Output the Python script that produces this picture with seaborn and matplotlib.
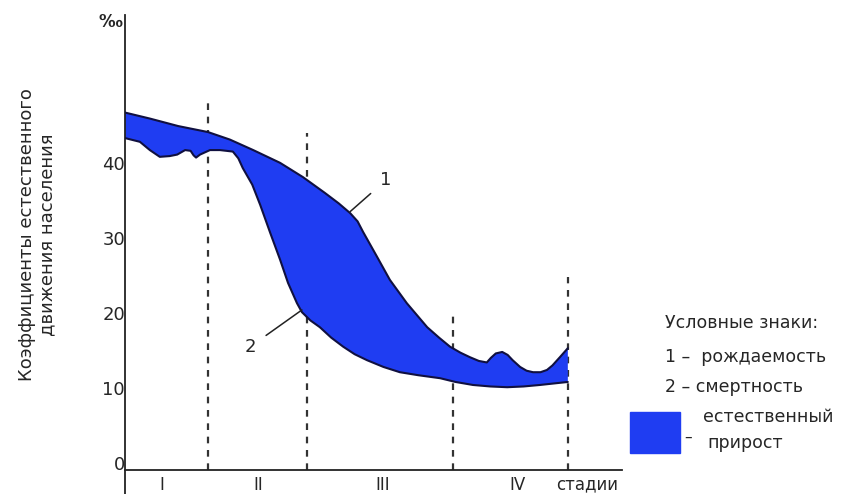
import numpy as np
import pandas as pd
import matplotlib
matplotlib.use("Agg")
import matplotlib.pyplot as plt
from matplotlib.patches import Rectangle
import seaborn as sns

sns.set_theme(style="white")
plt.rcParams["font.family"] = ["DejaVu Sans"]

# curve 1 - birth rate (per mille), x = relative time 0..100
birth_x = [0, 5.0, 10.7, 16.7, 21.1, 25.8, 31.2, 35.8, 40.2, 43.0, 45.3, 46.8,
           47.9, 50.7, 53.3, 56.7, 60.8, 63.2, 65.4, 67.5, 69.4, 71.2, 72.8,
           73.6, 74.6, 75.9, 77.0, 78.0, 79.5, 80.8, 82.1, 83.6, 84.9, 86.0,
           87.5, 89.1]
birth_v = [46.7, 45.9, 44.9, 44.1, 43.1, 41.7, 40.0, 38.1, 36.0, 34.6, 33.3, 32.2,
           30.8, 27.5, 24.4, 21.3, 18.1, 16.7, 15.5, 14.7, 14.1, 13.6, 13.4,
           14.0, 14.6, 14.8, 14.4, 13.7, 12.8, 12.3, 12.1, 12.1, 12.4, 13.0,
           14.1, 15.3]

# curve 2 - death rate
death_x = [0, 3.0, 5.0, 7.0, 9.0, 10.5, 12.1, 13.2, 13.8, 14.3, 15.1, 17.1,
           19.1, 21.7, 22.8, 23.7, 25.6, 27.2, 29.2, 31.2, 32.8, 34.6, 35.6,
           37.3, 39.2, 41.5, 43.9, 46.2, 48.7, 52.0, 55.3, 59.0, 63.4, 66.5,
           70.0, 73.5, 76.9, 80.2, 83.5, 86.3, 89.1]
death_v = [43.3, 42.8, 41.7, 40.8, 40.9, 41.1, 41.7, 41.6, 41.0, 40.7, 41.1, 41.7,
           41.7, 41.5, 40.6, 39.3, 37.1, 34.4, 30.7, 27.1, 24.0, 21.3, 20.1,
           19.0, 18.1, 16.7, 15.5, 14.5, 13.7, 12.8, 12.1, 11.7, 11.3, 10.8,
           10.4, 10.2, 10.1, 10.2, 10.4, 10.6, 10.8]

# stage boundaries (dashed) and their top ends
stage_bounds = [16.7, 36.6, 66.0, 89.1]
stage_tops = [48.0, 44.0, 20.1, 24.8]
stage_pos = [7.4, 26.8, 51.9, 78.9, 93.0]
stage_labels = ["I", "II", "III", "IV", "стадии"]
y_ticks = [0, 10, 20, 30, 40]

fill_color = "#1f3df2"
edge_color = "#101040"

df = pd.concat([
    pd.DataFrame({"x": birth_x, "v": birth_v, "curve": "1"}),
    pd.DataFrame({"x": death_x, "v": death_v, "curve": "2"}),
])

fig = plt.figure(figsize=(8.48, 4.94), dpi=100)
ax = fig.add_axes([125 / 848, 0, 497 / 848, 479 / 494])

# natural growth area between the two curves
ax.fill(np.concatenate([birth_x, death_x[::-1]]),
        np.concatenate([birth_v, death_v[::-1]]),
        color=fill_color, lw=0, zorder=2)
sns.lineplot(data=df, x="x", y="v", units="curve", estimator=None, sort=False,
             color=edge_color, lw=1.5, ax=ax, zorder=3)

ax.vlines(stage_bounds, -0.93, stage_tops, colors="#333333", lw=1.6,
          linestyles=(0, (3, 3)), zorder=1)

# curve labels
ax.annotate("1", xy=(45.3, 33.5), xytext=(52.5, 37.7), fontsize=13,
            ha="center", va="center",
            arrowprops=dict(arrowstyle="-", color="#222222", lw=1.1,
                            shrinkA=6, shrinkB=0))
ax.annotate("2", xy=(35.6, 20.4), xytext=(25.2, 15.5), fontsize=13,
            ha="center", va="center",
            arrowprops=dict(arrowstyle="-", color="#222222", lw=1.1,
                            shrinkA=6, shrinkB=0))

ax.set_xlim(0, 100)
ax.set_ylim(-4.13, 59.7)
ax.spines["top"].set_visible(False)
ax.spines["right"].set_visible(False)
ax.spines["bottom"].set_position(("data", -0.93))
for s in ("left", "bottom"):
    ax.spines[s].set_color("#222222")
    ax.spines[s].set_linewidth(1.3)

ax.set_yticks(y_ticks)
ax.set_yticklabels([str(t) for t in y_ticks], fontsize=13)
ax.set_xticks(stage_pos)
ax.set_xticklabels(stage_labels, fontsize=12)
ax.tick_params(axis="y", length=0, pad=0)
ax.tick_params(axis="x", length=0, pad=4)
ax.set_xlabel("")
ax.set_ylabel("")

fig.text(110 / 848, 1 - 22 / 494, "‰", fontsize=12, ha="center", va="center",
         fontweight="bold")
fig.text(37 / 848, 1 - 235 / 494,
         "Коэффициенты естественного\nдвижения населения",
         rotation=90, ha="center", va="center", fontsize=13, linespacing=1.15)

# legend block
fig.text(665 / 848, 1 - 323 / 494, "Условные знаки:", fontsize=12.5, va="center")
fig.text(665 / 848, 1 - 357 / 494, "1 –  рождаемость", fontsize=12.5, va="center")
fig.text(665 / 848, 1 - 387 / 494, "2 – смертность", fontsize=12.5, va="center")
fig.patches.append(Rectangle((630 / 848, 1 - 453 / 494), 50 / 848, 41 / 494,
                             transform=fig.transFigure, color=fill_color))
fig.text(688 / 848, 1 - 437 / 494, "–", fontsize=11, ha="center", va="center")
fig.text(703 / 848, 1 - 417 / 494, "естественный", fontsize=12.5, va="center")
fig.text(707 / 848, 1 - 443 / 494, "прирост", fontsize=12.5, va="center")

fig.savefig("out.png", dpi=100)
